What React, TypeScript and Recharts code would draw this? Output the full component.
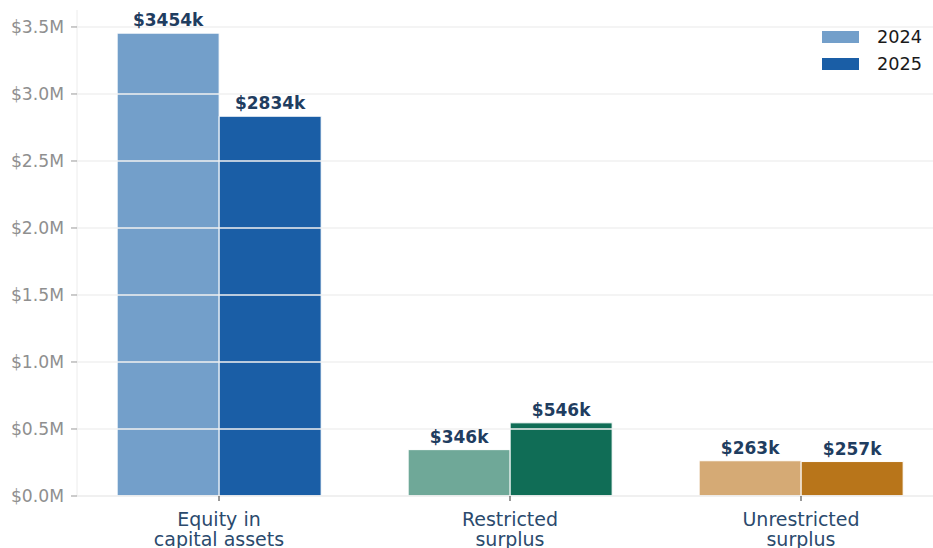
import React from "react";
import { BarChart, Bar, XAxis, YAxis, Cell, LabelList, ReferenceLine } from "recharts";

const categoryLines: string[][] = [
  ["Equity in", "capital assets"],
  ["Restricted", "surplus"],
  ["Unrestricted", "surplus"],
];
const values2024 = [3454, 346, 263];
const values2025 = [2834, 546, 257];
const colors2024 = ["#739fca", "#6fa898", "#d5aa75"];
const colors2025 = ["#1a5ea6", "#106d56", "#b8751a"];
const yTicks = [0, 500, 1000, 1500, 2000, 2500, 3000, 3500];
const yMax = 3626.7;
const seriesNames = ["2024", "2025"];

const data = categoryLines.map((lines, i) => ({
  name: lines.join(" "),
  idx: i,
  v2024: values2024[i],
  v2025: values2025[i],
}));

const FONT = "'DejaVu Sans', sans-serif";
const NAVY = "#1f3d60";

const XTick = (props: any) => {
  const { x, y, payload } = props;
  const lines = categoryLines[payload.index] || [String(payload.value)];
  return (
    <g>
      <text x={x} y={y + 25} textAnchor="middle" fill="#2b4a6d" fontSize={19} fontFamily={FONT}>
        {lines.map((l, i) => (
          <tspan key={i} x={x} dy={i === 0 ? 0 : 20}>
            {l}
          </tspan>
        ))}
      </text>
    </g>
  );
};

export default function App() {
  return (
    <div style={{ position: "absolute", left: 0, top: 0, width: 933, height: 548, overflow: "hidden", background: "#fff" }}>
      <BarChart
        width={950}
        height={548}
        data={data}
        margin={{ top: 10, right: 9, bottom: 0, left: 0 }}
        barCategoryGap="15%"
        barGap={0}
      >
        <XAxis
          dataKey="name"
          height={52}
          padding={{ left: -3.5, right: -5.5 }}
          axisLine={{ stroke: "#ececec" }}
          tickLine={{ stroke: "#333" }}
          tickSize={5}
          tickMargin={0}
          tick={<XTick />}
          interval={0}
        />
        <YAxis
          width={77}
          domain={[0, yMax]}
          ticks={yTicks}
          type="number"
          allowDataOverflow
          axisLine={{ stroke: "#ececec" }}
          tickLine={{ stroke: "#999" }}
          tickSize={6}
          tickMargin={7}
          tick={{ fill: "#8f8f8f", fontSize: 17.2, fontFamily: FONT }}
          tickFormatter={(v: number) => `$${(v / 1000).toFixed(1)}M`}
        />
        <Bar dataKey="v2024" name={seriesNames[0]} stroke="#fff" strokeWidth={1} isAnimationActive={false}>
          {data.map((d, i) => (
            <Cell key={i} fill={colors2024[i]} />
          ))}
          <LabelList
            dataKey="v2024"
            position="top"
            offset={7}
            formatter={(v: any) => `$${v}k`}
            style={{ fill: NAVY, fontSize: 17, fontWeight: "bold", fontFamily: FONT }}
          />
        </Bar>
        <Bar dataKey="v2025" name={seriesNames[1]} stroke="#fff" strokeWidth={1} isAnimationActive={false}>
          {data.map((d, i) => (
            <Cell key={i} fill={colors2025[i]} />
          ))}
          <LabelList
            dataKey="v2025"
            position="top"
            offset={7}
            formatter={(v: any) => `$${v}k`}
            style={{ fill: NAVY, fontSize: 17, fontWeight: "bold", fontFamily: FONT }}
          />
        </Bar>
        {yTicks.map((t) => (
          <ReferenceLine key={t} y={t} stroke="#f0f0f0" strokeWidth={1.3} />
        ))}
      </BarChart>
      <div style={{ position: "absolute", left: 822, top: 23, fontFamily: FONT, fontSize: 17.7, color: "#1a1a1a" }}>
        {seriesNames.map((s, i) => (
          <div key={s} style={{ display: "flex", alignItems: "center", height: 27.5 }}>
            <div style={{ width: 37, height: 12, background: i === 0 ? colors2024[0] : colors2025[0], marginRight: 18 }} />
            <span>{s}</span>
          </div>
        ))}
      </div>
    </div>
  );
}
